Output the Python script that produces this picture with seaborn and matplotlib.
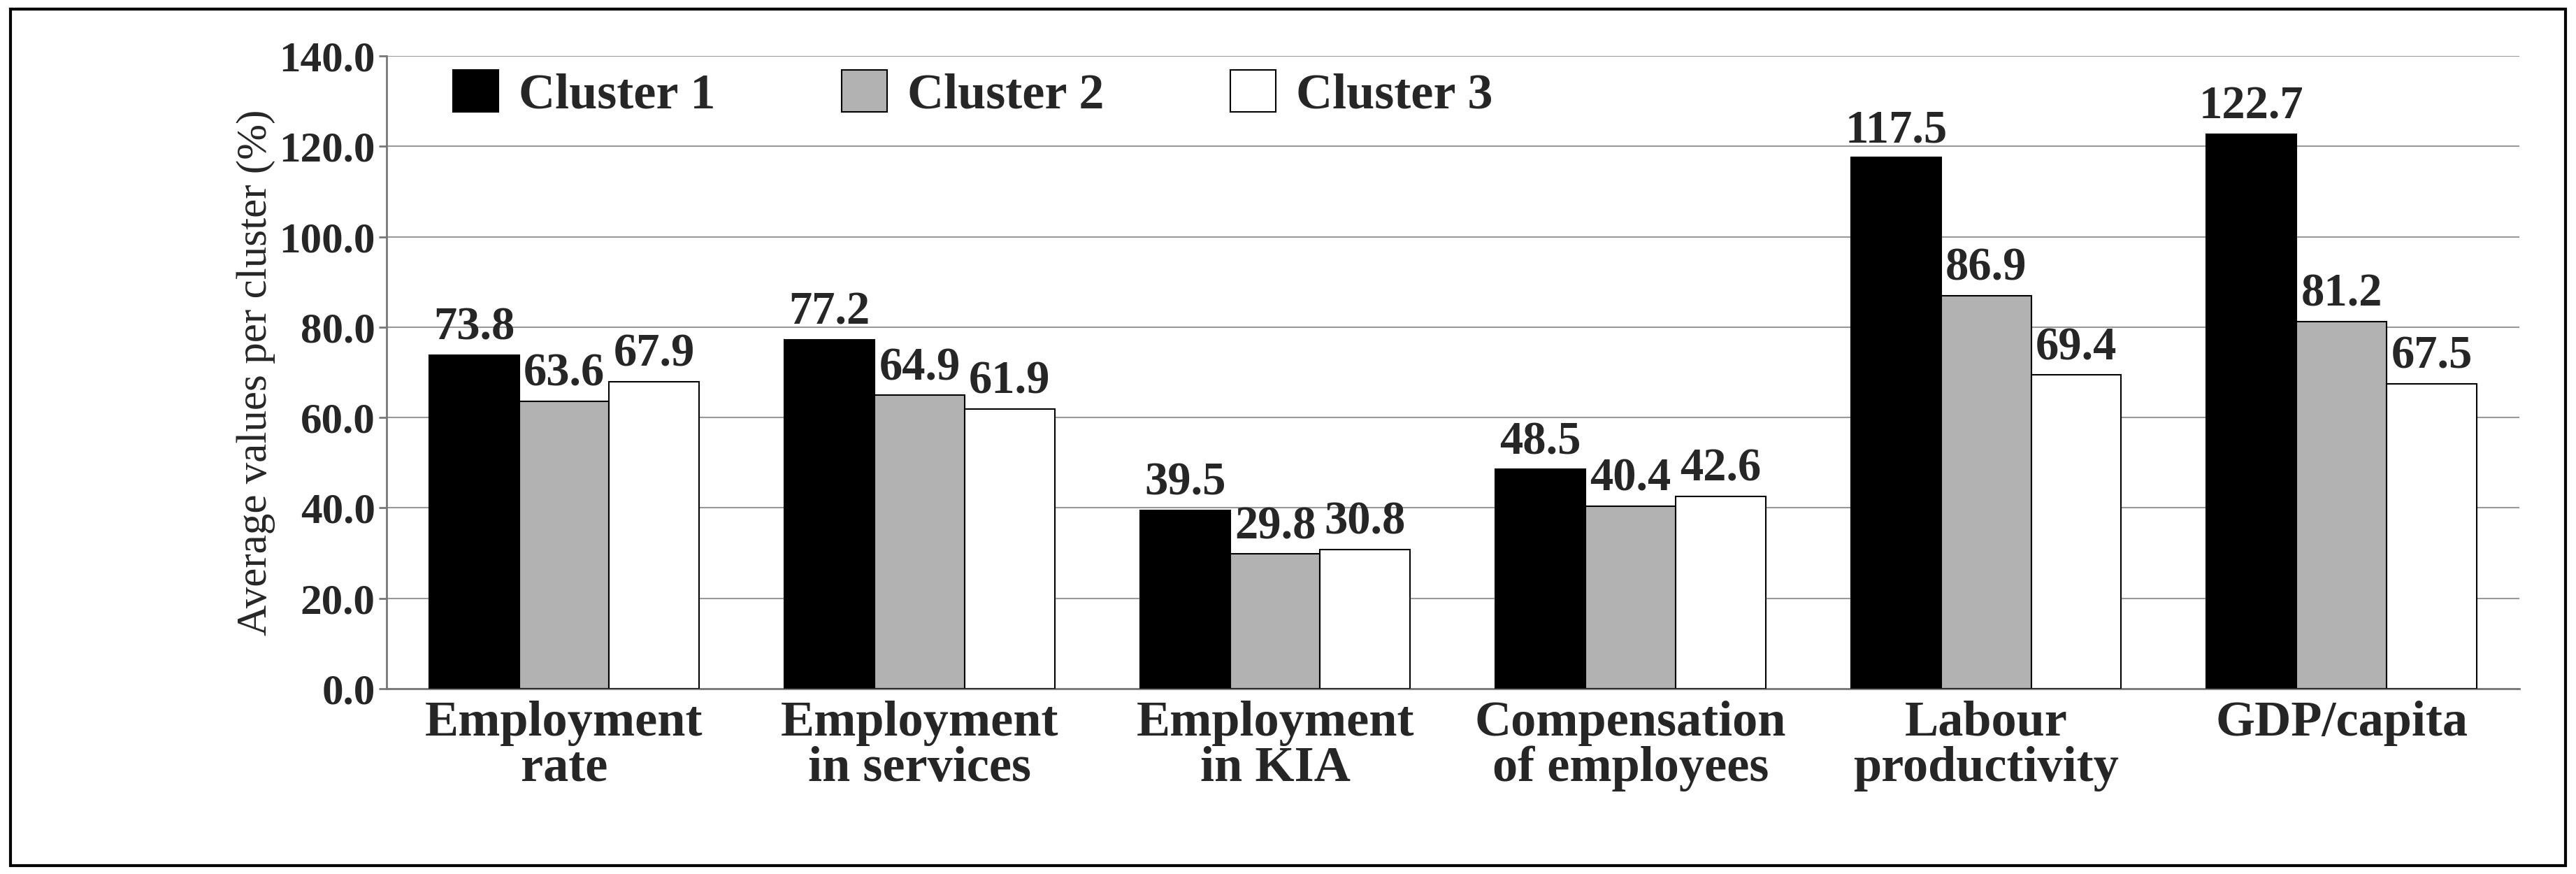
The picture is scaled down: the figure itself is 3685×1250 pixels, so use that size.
import matplotlib
matplotlib.use("Agg")
import matplotlib.pyplot as plt
import seaborn as sns
import pandas as pd
from matplotlib.patches import Rectangle

categories = ["Employment\nrate", "Employment\nin services", "Employment\nin KIA",
              "Compensation\nof employees", "Labour\nproductivity", "GDP/capita"]
cluster1 = [73.8, 77.2, 39.5, 48.5, 117.5, 122.7]
cluster2 = [63.6, 64.9, 29.8, 40.4, 86.9, 81.2]
cluster3 = [67.9, 61.9, 30.8, 42.6, 69.4, 67.5]
series_names = ["Cluster 1", "Cluster 2", "Cluster 3"]
yticks = [0, 20, 40, 60, 80, 100, 120, 140]

rows = []
for name, vals in zip(series_names, [cluster1, cluster2, cluster3]):
    for c, v in zip(categories, vals):
        rows.append({"cat": c, "cluster": name, "val": v})
df = pd.DataFrame(rows)

sns.set_theme(style="white")
plt.rcParams['font.family'] = ['Liberation Serif', 'DejaVu Serif']
plt.rcParams['font.weight'] = 'bold'

fig = plt.figure(figsize=(36.85, 12.5), dpi=100)
ax = fig.add_axes([0.150, 0.212, 0.828, 0.724])
palette = {"Cluster 1": "#000000", "Cluster 2": "#b2b2b2", "Cluster 3": "#ffffff"}
sns.barplot(data=df, x="cat", y="val", hue="cluster", palette=palette, ax=ax,
            width=0.76, edgecolor="black", linewidth=1.5, saturation=1, zorder=3)
for cont in ax.containers:
    ax.bar_label(cont, fmt="%.1f", fontsize=48, fontweight="bold", padding=6)
ax.set_ylim(0, 140)
ax.set_yticks(yticks)
ax.set_yticklabels([f"{t:.1f}" for t in yticks], fontsize=44, fontweight="bold")
ax.set_xticklabels(categories, fontsize=52, fontweight="bold", linespacing=1.0)
ax.set_xlabel("")
ax.set_ylabel("Average values per cluster (%)", fontsize=44, fontweight="normal")
ax.yaxis.grid(True, color="#999999", linewidth=1.5, zorder=0)
ax.set_axisbelow(True)
for s in ["top", "right"]:
    ax.spines[s].set_visible(False)
for s in ["left", "bottom"]:
    ax.spines[s].set_color("#777777")
    ax.spines[s].set_linewidth(2)
ax.tick_params(axis="y", length=8, width=2, color="#777777", left=True)
ax.tick_params(axis="x", length=0, pad=12)
ax.legend(loc="upper left", ncol=3, frameon=False, fontsize=52, bbox_to_anchor=(0.01, 1.05),
          handlelength=0.9, handleheight=0.9, columnspacing=2.5, handletextpad=0.4)
fig.patches.append(Rectangle((0.004, 0.01), 0.992, 0.98, transform=fig.transFigure,
                             fill=False, edgecolor="black", linewidth=3))
fig.savefig("out.png", dpi=100)
